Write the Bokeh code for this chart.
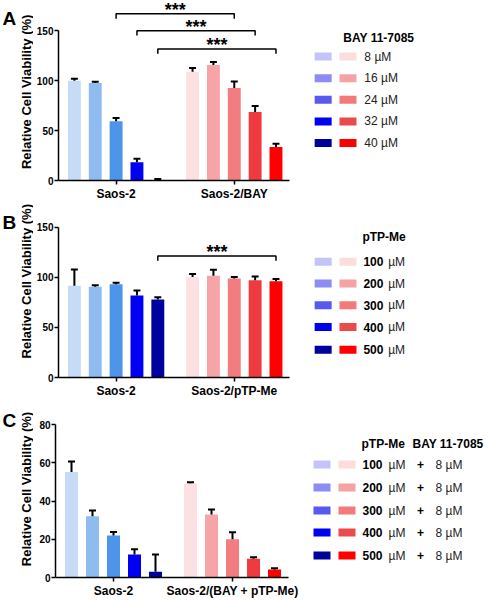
import math
from bokeh.plotting import figure
from bokeh.models import Range1d, FixedTicker
from bokeh.layouts import column, row
from bokeh.embed import file_html
from bokeh.resources import INLINE
from bokeh.core.properties import value

# ---------------- data ----------------
A_groups = ["Saos-2", "Saos-2/BAY"]
A_saos = [100.0, 97.7, 59.5, 18.4, 0.6]
A_saos_err = [2.0, 1.3, 3.3, 3.3, 0.8]
A_bay = [109.0, 115.8, 92.8, 68.8, 33.5]
A_bay_err = [3.8, 3.2, 6.6, 5.9, 3.3]
A_sig_pairs = [2, 3, 4]
A_sig_heights = [167.2, 150.3, 132.0]
A_doses = ["8", "16", "24", "32", "40"]
A_legend_title = "BAY 11-7085"

B_groups = ["Saos-2", "Saos-2/pTP-Me"]
B_saos = [91.7, 90.6, 93.0, 81.9, 77.8]
B_saos_err = [16.0, 1.5, 1.6, 5.0, 2.2]
B_ptp = [100.2, 101.5, 98.9, 97.0, 96.0]
B_ptp_err = [3.0, 6.0, 1.3, 3.9, 2.4]
B_sig_pairs = [4]
B_sig_heights = [121.4]
B_doses = ["100", "200", "300", "400", "500"]
B_legend_title = "pTP-Me"

C_groups = ["Saos-2", "Saos-2/(BAY + pTP-Me)"]
C_saos = [55.1, 32.0, 22.0, 12.0, 3.0]
C_saos_err = [5.6, 3.0, 1.8, 2.8, 9.0]
C_comb = [49.3, 33.0, 20.0, 9.8, 4.2]
C_comb_err = [0.5, 2.5, 3.7, 0.8, 0.6]
C_doses = ["100", "200", "300", "400", "500"]
C_bay_dose = "8"
C_legend_titles = ["pTP-Me", "BAY 11-7085"]

Y_TITLE = "Relative Cell Viability (%)"
LETTERS = ["A", "B", "C"]

# ---------------- style ----------------
FONT = "Liberation Sans"
blue_bars = ["#c6dbf6", "#8fbbf0", "#4d94ea", "#0000f2", "#00009e"]
red_bars = ["#fde0e2", "#f7a4a8", "#f27c80", "#ef3b40", "#ff0000"]
blue_leg = ["#c4c4f8", "#8c8cf4", "#5959ef", "#0000f0", "#00009a"]
red_leg = ["#fddcdc", "#f4a2a2", "#f27a7a", "#eb4a4a", "#ff0000"]

TOTAL_W = 489
GUTTER_W = 33
FRAME_LEFT_ABS = 55
BAR_STEP = 3
G2_START = 17
PX_PER_X = 7.0
X0_ABS = 71.0


def X(px):
    return (px - X0_ABS) / PX_PER_X


def bar_x(g, i):
    return (G2_START if g else 0) + BAR_STEP * i


def make_gutter(fig_h, letter, letter_base_local, ytitle_center_local):
    g = figure(width=GUTTER_W, height=fig_h, output_backend="svg", toolbar_location=None,
               x_range=Range1d(0, GUTTER_W), y_range=Range1d(0, fig_h),
               x_axis_type=None, y_axis_type=None,
               min_border_left=0, min_border_right=0, min_border_top=0, min_border_bottom=0)
    g.outline_line_color = None
    g.grid.visible = False
    g.text(x=[2], y=[fig_h - letter_base_local], text=[letter], text_font=value(FONT),
           text_font_style="bold", text_font_size="19px", text_align="left",
           text_baseline="alphabetic", text_color="black")
    g.text(x=[26], y=[fig_h - ytitle_center_local], text=[Y_TITLE], angle=math.pi / 2,
           text_font=value(FONT), text_font_style="bold", text_font_size="13px",
           text_align="center", text_baseline="middle", text_color="black")
    return g


def make_panel(fig_top, fig_h, zero_px, scale, ymax_axis, yticks, v1, e1, v2, e2,
               groups, xaxis_end_px):
    def Y(px):
        return (zero_px - px) / scale

    y_end = (zero_px - fig_top) / scale
    p = figure(width=TOTAL_W - GUTTER_W, height=fig_h, output_backend="svg",
               toolbar_location=None,
               x_range=Range1d(X(FRAME_LEFT_ABS), X(TOTAL_W)),
               y_range=Range1d(0, y_end),
               min_border_left=FRAME_LEFT_ABS - GUTTER_W, min_border_right=0,
               min_border_top=0, min_border_bottom=int(fig_top + fig_h - zero_px))
    p.outline_line_color = None
    p.grid.visible = False
    p.background_fill_color = "white"

    xs1 = [bar_x(0, i) for i in range(5)]
    xs2 = [bar_x(1, i) for i in range(5)]
    bw = 13 / PX_PER_X
    p.vbar(x=xs1, top=v1, width=bw, fill_color=blue_bars, line_color=None)
    p.vbar(x=xs2, top=v2, width=bw, fill_color=red_bars, line_color=None)
    for xs, vs, es in ((xs1, v1, e1), (xs2, v2, e2)):
        tops = [v + e for v, e in zip(vs, es)]
        p.segment(x0=xs, y0=vs, x1=xs, y1=tops, line_color="black", line_width=2)
        p.segment(x0=[x - 0.5 for x in xs], y0=tops, x1=[x + 0.5 for x in xs], y1=tops,
                  line_color="black", line_width=2)

    centers = [bar_x(0, 2), bar_x(1, 2)]
    xa = p.xaxis[0]
    xa.ticker = FixedTicker(ticks=centers)
    xa.major_label_overrides = {centers[0]: groups[0], centers[1]: groups[1]}
    xa.bounds = (X(FRAME_LEFT_ABS), X(xaxis_end_px))
    xa.axis_line_width = 1.5
    xa.major_tick_line_width = 1.5
    xa.major_tick_out = 4
    xa.major_tick_in = 0
    xa.minor_tick_line_color = None
    xa.major_label_standoff = 2
    xa.major_label_text_font = FONT
    xa.major_label_text_font_style = "bold"
    xa.major_label_text_font_size = "12px"
    xa.major_label_text_color = "black"

    ya = p.yaxis[0]
    ya.ticker = FixedTicker(ticks=yticks)
    ya.bounds = (0, ymax_axis)
    ya.axis_line_width = 1.5
    ya.major_tick_line_width = 1.5
    ya.major_tick_out = 4
    ya.major_tick_in = 0
    ya.minor_tick_line_color = None
    ya.major_label_standoff = 1
    ya.major_label_text_font = FONT
    ya.major_label_text_font_style = "bold"
    ya.major_label_text_font_size = "10px"
    ya.major_label_text_color = "black"
    return p, Y


def add_brackets(p, Y, scale, pairs, heights):
    leg = 5 / scale
    for i, h in zip(pairs, heights):
        x1, x2 = bar_x(0, i), bar_x(1, i)
        p.line(x=[x1, x1, x2, x2], y=[h - leg, h, h, h - leg], line_color="black",
               line_width=1.5)
        p.text(x=[(x1 + x2) / 2], y=[h + 4.0 / scale], text=["***"], text_font=value(FONT),
               text_font_style="bold", text_font_size="18px", text_align="center",
               text_baseline="middle", text_color="black")


def legend_swatches(p, Y, rows):
    for i, ry in enumerate(rows):
        p.rect(x=[X(321.5)], y=[Y(ry)], width=17, height=8, width_units="screen",
               height_units="screen", fill_color=blue_leg[i], line_color=None)
        p.rect(x=[X(346.5)], y=[Y(ry)], width=17, height=8, width_units="screen",
               height_units="screen", fill_color=red_leg[i], line_color=None)


def txt(p, x, y, s, bold=False, align="left", color="black", size="12px"):
    p.text(x=[x], y=[y], text=[s], text_font=value(FONT),
           text_font_style="bold" if bold else "normal", text_font_size=size,
           text_align=align, text_baseline="middle", text_color=color)


# ---------------- panel A ----------------
A_top, A_h = 0, 203
A_scale = 152 / 150
pA, YA = make_panel(A_top, A_h, 183, A_scale, 150, [0, 50, 100, 150], A_saos, A_saos_err,
                    A_bay, A_bay_err, A_groups, 288)
add_brackets(pA, YA, A_scale, A_sig_pairs, A_sig_heights)
rowsA = [57, 79, 101, 123, 145]
txt(pA, X(377.5), YA(38), A_legend_title, bold=True, align="center")
legend_swatches(pA, YA, rowsA)
for d, ry in zip(A_doses, rowsA):
    txt(pA, X(363), YA(ry), d + " \u00b5M", color="#222222")
gA = make_gutter(A_h, LETTERS[0], 20 - A_top, 103 - A_top)

# ---------------- panel B ----------------
B_top, B_h = 203, 197
B_scale = 152 / 150
pB, YB = make_panel(B_top, B_h, 379, B_scale, 150, [0, 50, 100, 150], B_saos, B_saos_err,
                    B_ptp, B_ptp_err, B_groups, 288)
add_brackets(pB, YB, B_scale, B_sig_pairs, B_sig_heights)
rowsB = [262, 284, 306, 328, 351]
txt(pB, X(361), YB(237), B_legend_title, bold=True)
legend_swatches(pB, YB, rowsB)
for d, ry in zip(B_doses, rowsB):
    txt(pB, X(362), YB(ry), d, bold=True)
    txt(pB, X(387), YB(ry), "\u00b5M", color="#222222")
gB = make_gutter(B_h, LETTERS[1], 225 - B_top, 291 - B_top)

# ---------------- panel C ----------------
C_top, C_h = 400, 200
C_scale = 153 / 80
pC, YC = make_panel(C_top, C_h, 577, C_scale, 80, [0, 20, 40, 60, 80], C_saos, C_saos_err,
                    C_comb, C_comb_err, C_groups, 288)
rowsC = [464, 487, 510, 532, 555]
txt(pC, X(361), YC(443), C_legend_titles[0], bold=True)
txt(pC, X(412), YC(443), C_legend_titles[1], bold=True)
legend_swatches(pC, YC, rowsC)
for d, ry in zip(C_doses, rowsC):
    txt(pC, X(362), YC(ry), d, bold=True)
    txt(pC, X(388), YC(ry), "\u00b5M", color="#222222")
    txt(pC, X(420), YC(ry), "+", bold=True, align="center")
    txt(pC, X(435), YC(ry), C_bay_dose + " \u00b5M", color="#222222")
gC = make_gutter(C_h, LETTERS[2], 423 - C_top, 500 - C_top)

layout = column(row(gA, pA, spacing=0), row(gB, pB, spacing=0), row(gC, pC, spacing=0),
                spacing=0)
open("out.html", "w").write(file_html(layout, INLINE))
